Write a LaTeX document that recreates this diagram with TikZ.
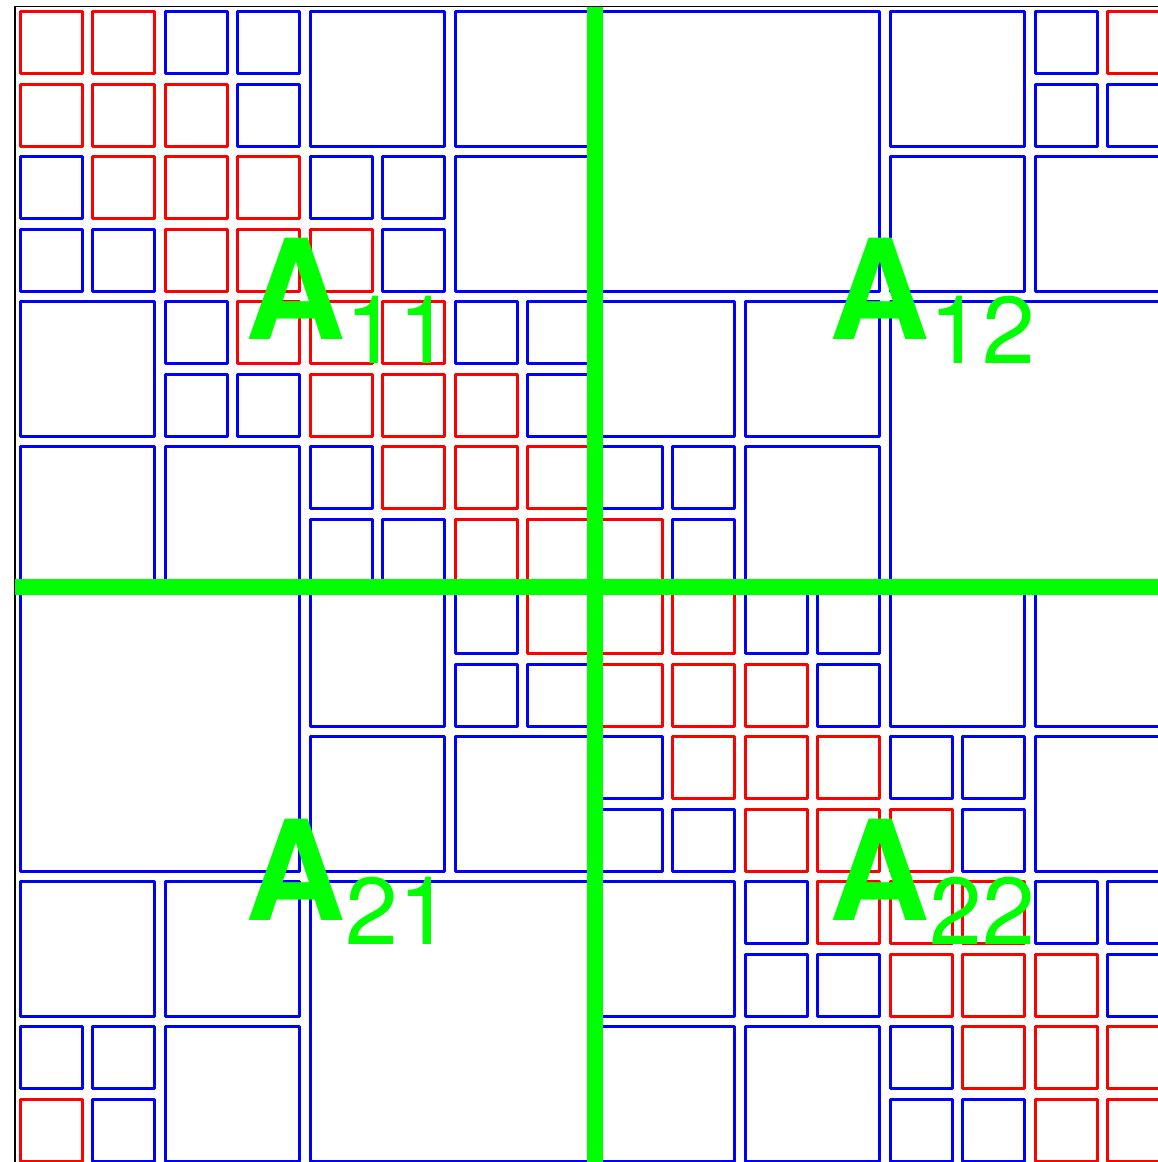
\documentclass[tikz,border=0pt]{standalone}
\usepackage{fontspec}
\setmainfont{TeX Gyre Heros}
\definecolor{pgreen}{RGB}{0,255,0}
\definecolor{pblue}{RGB}{0,0,255}
\definecolor{pred}{RGB}{255,0,0}
\begin{document}
\begin{tikzpicture}[x=1pt,y=-1pt,
  blk/.style={line width=3.3pt,line join=round},
  divline/.style={pgreen,line width=16pt},
  lbl/.style={text=pgreen,inner sep=0pt,anchor=base west}]
\useasboundingbox (0,0) rectangle (1158,1162);
\clip (0,0) rectangle (1158,1162);
\def\pitch{72.5}
\def\ins{5.3}
\newcommand\blockat[4]{% row, col, size, colour
  \draw[blk,#4] ({15+#2*\pitch+\ins},{6.5+#1*\pitch+\ins}) rectangle ({15+(#2+#3)*\pitch-\ins},{6.5+(#1+#3)*\pitch-\ins});}
% frame
\draw[line width=1.5pt,black] (15,6.5) rectangle (1175,1166.5);
% 4x4 blue blocks
\foreach \r/\c in {0/8,4/12,8/0,12/4} {\blockat{\r}{\c}{4}{pblue}}
% 2x2 blue blocks
\foreach \r/\c in {0/4,0/6,0/12,2/6,2/12,2/14,4/0,4/8,4/10,6/0,6/2,6/10,8/4,8/12,8/14,10/4,10/6,10/14,12/0,12/2,12/8,14/2,14/8,14/10} {\blockat{\r}{\c}{2}{pblue}}
% 1x1 blue blocks
\foreach \r/\c in {0/2,0/3,0/14,1/3,1/14,1/15,2/0,2/4,2/5,3/0,3/1,3/5,4/2,4/6,4/7,5/2,5/3,5/7,6/4,6/8,6/9,7/4,7/5,7/9,8/6,8/10,8/11,9/6,9/7,9/11,10/8,10/12,10/13,11/8,11/9,11/13,12/10,12/14,12/15,13/10,13/11,13/15,14/0,14/1,14/12,15/1,15/12,15/13} {\blockat{\r}{\c}{1}{pblue}}
% red blocks
\foreach \r/\c in {0/0,0/1,0/15,1/0,1/1,1/2,2/1,2/2,2/3,3/2,3/3,3/4,4/3,4/4,4/5,5/4,5/5,5/6,6/5,6/6,6/7,7/6,8/9,9/8,9/9,9/10,10/9,10/10,10/11,11/10,11/11,11/12,12/11,12/12,12/13,13/12,13/13,13/14,14/13,14/14,14/15,15/14,15/15,15/0} {\blockat{\r}{\c}{1}{pred}}
\blockat{7}{7}{2}{pred}
% dividing lines
\coordinate (vt) at (595,6.5);
\coordinate (vb) at (595,1170);
\coordinate (hl) at (15,586.5);
\coordinate (hr) at (1170,586.5);
\draw[divline] (vt) -- (vb);
\draw[divline] (hl) -- (hr);
% labels
\node[lbl] (a11) at (245,339) {\fontsize{139}{139}\selectfont\bfseries A};
\node[lbl] (s11) at ([yshift=-24pt]a11.base east) {\fontsize{95}{95}\selectfont 11};
\node[lbl] (a12) at (829,339) {\fontsize{139}{139}\selectfont\bfseries A};
\node[lbl] (s12) at ([yshift=-24pt]a12.base east) {\fontsize{95}{95}\selectfont 12};
\node[lbl] (a21) at (245,920) {\fontsize{139}{139}\selectfont\bfseries A};
\node[lbl] (s21) at ([yshift=-24pt]a21.base east) {\fontsize{95}{95}\selectfont 21};
\node[lbl] (a22) at (829,920) {\fontsize{139}{139}\selectfont\bfseries A};
\node[lbl] (s22) at ([yshift=-24pt]a22.base east) {\fontsize{95}{95}\selectfont 22};
\end{tikzpicture}
\end{document}
